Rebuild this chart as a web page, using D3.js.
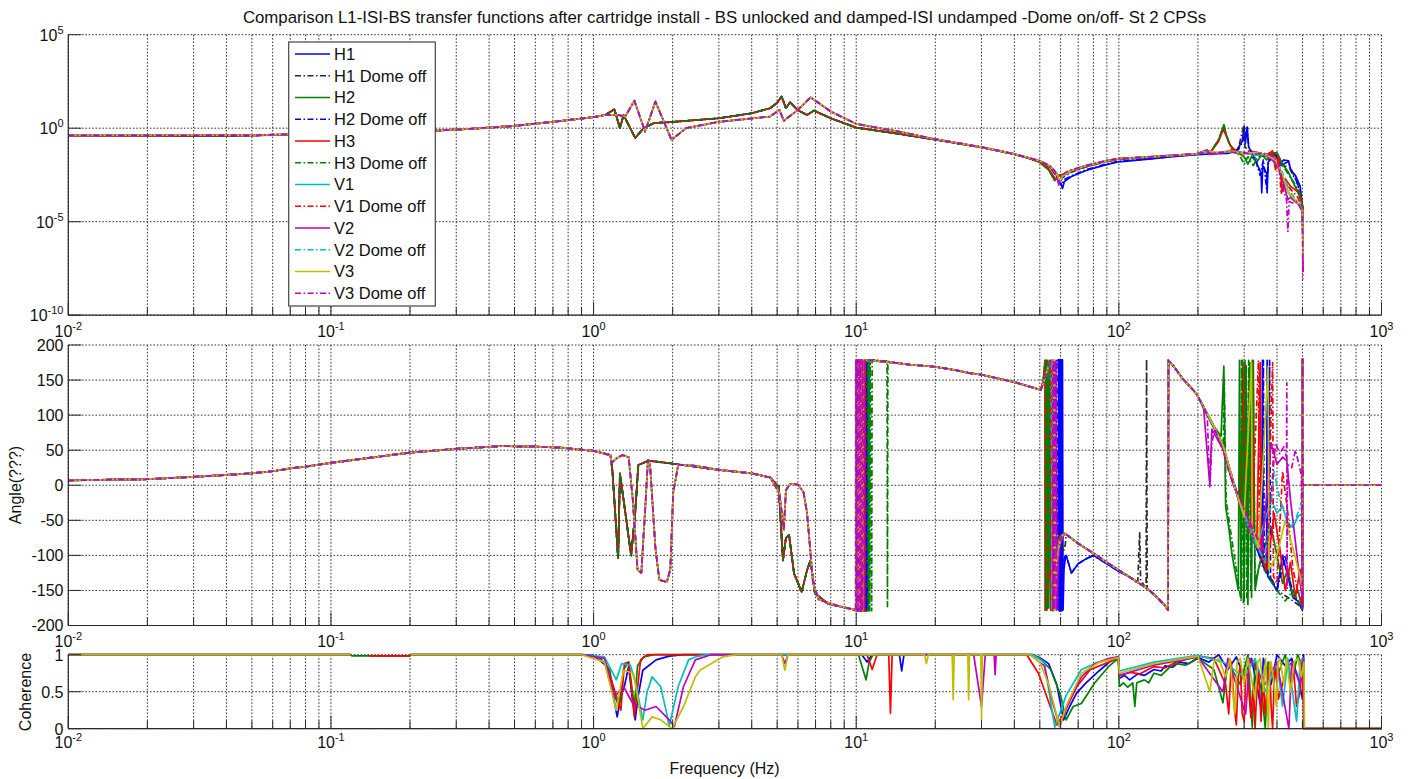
<!DOCTYPE html>
<html>
<head>
<meta charset="utf-8">
<script src="https://cdn.jsdelivr.net/npm/d3@7"></script>
<style>
  html, body { margin: 0; padding: 0; background: #fff; }
  svg { display: block; font-family: "Liberation Sans", Arial, Helvetica, sans-serif; }
</style>
</head>
<body>
<svg id="chart" width="1411" height="779"></svg>
<script>
// ---------------- Series and tick definitions ----------------
const seriesNames = ["H1", "H1 Dome off", "H2", "H2 Dome off", "H3", "H3 Dome off",
                     "V1", "V1 Dome off", "V2", "V2 Dome off", "V3", "V3 Dome off"];
const cohNames = ["H1", "H2", "H3", "V1", "V2", "V3"];

const titleText = "Comparison L1-ISI-BS transfer functions after cartridge install - BS unlocked and damped-ISI undamped -Dome on/off- St 2 CPSs";
const xTickValues = [1e-2, 1e-1, 1e0, 1e1, 1e2, 1e3];
const xTickExponents = ["-2", "-1", "0", "1", "2", "3"];
const magTickValues = [1e-10, 1e-5, 1e0, 1e5];
const magTickExponents = ["-10", "-5", "0", "5"];
const phaseTickValues = [-200, -150, -100, -50, 0, 50, 100, 150, 200];
const cohTickValues = [0, 0.5, 1];
const cohTickLabels = ["0", "0.5", "1"];

// ---------------- Magnitude [Hz, |H|] ----------------
const magLowA = [[0.01,0.38],[0.03,0.39],[0.05,0.41],[0.08,0.47],[0.12,0.55],[0.2,0.68],[0.25,0.75],[0.34,0.92],
  [0.49,1.3],[0.7,2.2],[1.0,3.9],[1.11,5.1],[1.2,10.2],[1.26,1.0],[1.3,5.1],[1.44,0.3],[1.55,1.0],[1.7,1.9],
  [1.95,2.1],[3.0,3.4],[4.0,6.3],[4.7,11.7],[5.0,23],[5.2,49],[5.4,11.7],[5.6,24.5],[5.97,9.5],[6.5,5.1],
  [6.9,8.7],[8.0,3.4],[10,1.07],[15,0.47],[20.3,0.24],[30,0.095],[40,0.041]];
const magLowB = [[0.01,0.41],[0.03,0.42],[0.05,0.43],[0.08,0.48],[0.12,0.56],[0.2,0.69],[0.25,0.76],[0.34,0.93],
  [0.49,1.3],[0.7,2.2],[1.0,3.9],[1.11,5.1],[1.24,5.1],[1.32,4.2],[1.43,29.5],[1.57,0.66],[1.72,26.3],
  [1.98,0.24],[2.25,1.0],[3.0,2.2],[4.7,4.2],[5.1,9.5],[5.3,2.5],[6.0,9.5],[6.7,45],[8.0,7.8],[10,1.7],
  [15,0.6],[20.3,0.25],[30,0.097],[40,0.042]];

const magHiH1 = [[45,0.026],[50,0.016],[55,0.008],[58,0.003],[60,0.0012],[61,0.0006],[62,0.0014],[66,0.0026],
  [75,0.0055],[89,0.011],[100,0.016],[130,0.022],[160,0.03],[197,0.038],[230,0.043],[260,0.045],[280,0.06],
  [295,0.2],[300,1.3],[303,0.15],[308,1.1],[312,0.1],[330,0.02],[348,0.004],[350,0.00035],[353,0.01],
  [365,0.004],[367,0.00035],[370,0.015],[393,0.04],[410,0.012],[425,0.02],[443,0.018],[450,0.006],
  [470,0.003],[490,0.0008],[500,0.00006],[503,1e-7]];
const magHiH1off = [[45,0.026],[50,0.0166],[55,0.008],[58,0.0025],[60,0.002],[63,0.003],[66,0.0045],[75,0.0085],
  [89,0.016],[100,0.022],[130,0.027],[160,0.033],[197,0.04],[230,0.045],[260,0.05],[285,0.08],[299,1.4],
  [302,0.1],[320,0.04],[350,0.03],[393,0.045],[420,0.01],[450,0.008],[480,0.001],[500,0.0001],[503,1e-6]];
const magHiH2 = [[45,0.026],[50,0.015],[54,0.006],[57,0.0016],[59,0.003],[63,0.0035],[66,0.005],[75,0.009],
  [89,0.017],[100,0.023],[130,0.028],[160,0.034],[197,0.042],[225,0.06],[240,0.25],[251,1.5],[256,0.5],
  [262,0.19],[270,0.08],[280,0.056],[300,0.03],[310,0.012],[320,0.03],[335,0.015],[350,0.04],[365,0.02],
  [380,0.045],[400,0.05],[420,0.012],[440,0.005],[460,0.0013],[480,0.0004],[500,0.00008],[503,1e-6]];
const magHiH2off = [[45,0.026],[50,0.016],[55,0.008],[58,0.0028],[60.5,0.0009],[62,0.0018],[66,0.0028],
  [75,0.006],[89,0.012],[100,0.017],[130,0.023],[160,0.031],[197,0.039],[230,0.044],[260,0.047],[285,0.07],
  [300,0.3],[308,1.1],[312,0.1],[330,0.025],[345,0.003],[355,0.02],[365,0.0006],[372,0.02],[393,0.042],
  [415,0.01],[443,0.017],[455,0.004],[475,0.0015],[495,0.0002],[500,0.00005],[503,3e-7]];
const magHiH3 = [[45,0.026],[50,0.016],[54,0.007],[57.5,0.0018],[59,0.003],[63,0.0037],[66,0.005],[75,0.009],
  [89,0.017],[100,0.023],[130,0.028],[160,0.034],[197,0.042],[225,0.058],[240,0.2],[250,0.9],[256,0.4],
  [265,0.12],[280,0.06],[300,0.045],[330,0.05],[360,0.035],[385,0.06],[395,0.006],[405,0.03],[420,0.0004],
  [430,0.002],[450,0.0008],[470,0.0005],[490,0.0003],[500,0.00006],[503,1e-6]];
const magHiH3off = [[45,0.026],[50,0.015],[54,0.006],[57,0.0016],[59,0.0028],[63,0.0035],[66,0.005],[75,0.009],
  [89,0.017],[100,0.023],[130,0.028],[160,0.034],[197,0.042],[225,0.06],[240,0.25],[251,1.5],[256,0.5],
  [262,0.19],[270,0.08],[280,0.056],[290,0.03],[300,0.012],[310,0.03],[325,0.01],[340,0.035],[370,0.03],
  [400,0.045],[420,0.01],[445,0.003],[465,0.0012],[485,0.0004],[500,0.00007],[503,1e-6]];
const magHiV1 = [[45,0.027],[50,0.018],[55,0.009],[58,0.004],[59.5,0.0012],[61,0.003],[66,0.0055],[75,0.01],
  [89,0.018],[100,0.024],[130,0.029],[160,0.035],[197,0.042],[215,0.048],[240,0.05],[260,0.06],[280,0.045],
  [300,0.05],[330,0.035],[360,0.04],[390,0.02],[420,0.003],[440,0.0004],[460,0.00015],[480,0.0001],
  [500,0.00004],[503,5e-7]];
const magHiV1off = [[45,0.026],[50,0.017],[55,0.008],[58,0.003],[60,0.0025],[63,0.004],[66,0.0055],[75,0.0095],
  [89,0.017],[100,0.024],[130,0.029],[160,0.035],[197,0.042],[217,0.07],[220,0.04],[250,0.05],[270,0.07],
  [290,0.04],[310,0.06],[340,0.05],[370,0.04],[385,0.06],[395,0.008],[405,0.03],[415,0.0003],[425,0.002],
  [440,0.0008],[460,0.0004],[480,0.0002],[500,0.00005],[503,1e-6]];
const magHiV2 = [[45,0.027],[50,0.018],[55,0.009],[58,0.0035],[59,0.0009],[60.5,0.002],[63,0.004],[66,0.0055],
  [75,0.01],[89,0.018],[100,0.024],[130,0.029],[160,0.035],[197,0.042],[217,0.07],[222,0.04],[250,0.05],
  [275,0.06],[300,0.045],[330,0.05],[360,0.04],[400,0.012],[420,0.002],[440,0.00015],[450,0.0002],
  [470,0.00012],[490,0.00007],[500,0.00003],[503,2e-8]];
const magHiV2off = [[45,0.027],[50,0.018],[55,0.009],[58,0.004],[60,0.0015],[62,0.003],[66,0.0055],[75,0.01],
  [89,0.018],[100,0.024],[130,0.029],[160,0.035],[197,0.042],[217,0.055],[240,0.05],[270,0.055],[300,0.05],
  [330,0.04],[360,0.045],[390,0.025],[420,0.004],[445,0.0005],[465,0.0002],[485,0.0001],[500,0.00004],
  [503,6e-7]];
const magHiV3 = [[45,0.027],[50,0.018],[55,0.009],[58,0.0035],[59.5,0.0015],[61,0.0028],[66,0.0055],[75,0.01],
  [89,0.018],[100,0.024],[130,0.029],[160,0.035],[197,0.042],[217,0.06],[240,0.05],[270,0.06],[300,0.045],
  [330,0.05],[360,0.04],[395,0.02],[420,0.003],[440,0.0004],[460,0.0002],[480,0.0001],[500,0.00004],
  [503,1e-7]];
const magHiV3off = [[45,0.027],[50,0.018],[55,0.009],[57,0.005],[59,0.0012],[60,0.0025],[63,0.0045],[66,0.006],
  [75,0.01],[89,0.018],[100,0.024],[130,0.029],[160,0.035],[197,0.042],[212,0.05],[217,0.075],[220,0.045],
  [240,0.05],[260,0.055],[280,0.05],[300,0.048],[320,0.04],[350,0.045],[380,0.035],[400,0.02],[415,0.003],
  [425,0.0004],[435,0.00015],[440,3e-6],[445,0.00012],[460,0.0001],[475,0.00012],[490,0.00006],
  [500,0.00003],[502,8e-9]];

// ---------------- Phase [Hz, degrees] ----------------
const phaseLowA = [[0.01,7],[0.02,8.6],[0.03,12],[0.04,14.7],[0.05,17],[0.06,20],[0.07,24],[0.08,26.6],[0.1,32],
  [0.2,46.6],[0.3,52],[0.45,56],[0.6,55],[0.75,53.7],[1.0,49],[1.16,43],[1.18,20],[1.24,-104],[1.26,17],
  [1.3,-20],[1.39,-100],[1.44,-40],[1.48,29],[1.62,35],[1.98,31],[3.0,22],[4.0,17],[4.7,11],[5.07,-2],
  [5.26,-107],[5.4,-75],[5.55,-71],[5.8,-126],[6.2,-152],[6.5,-121],[6.7,-107],[6.96,-154],[7.8,-169],
  [9.7,-177]];
const phaseLowB = [[0.01,7],[0.02,8.6],[0.03,12],[0.04,14.7],[0.05,17],[0.06,20],[0.07,24],[0.08,26.6],[0.1,32],
  [0.2,46.6],[0.3,52],[0.45,56],[0.6,55],[0.75,53.7],[1.0,49],[1.16,43],[1.17,32],[1.22,38],[1.29,43],
  [1.36,40],[1.41,-20],[1.47,-120],[1.52,-125],[1.58,-20],[1.61,36],[1.64,30],[1.72,-90],[1.78,-135],
  [1.9,-138],[1.96,-120],[2.01,-10],[2.1,29],[2.4,28],[3.0,22],[4.0,17],[4.7,11],[5.1,-11],[5.3,-64],
  [5.4,-7],[5.6,2],[6.0,1],[6.3,-10],[6.5,-40],[6.7,-97],[6.85,-140],[7.2,-163],[8.5,-172],[9.7,-177]];

const wrapH1 = [[10.0,-178],[10.5,-179],[10.52,179],[10.6,-179],[10.65,179],[10.75,-179],[10.8,179],[10.9,-179],[10.95,179],[11.0,-179],[11.05,179]];
const wrapH1off = [[10.0,-178],[10.3,-179],[10.32,179],[10.4,-179],[10.45,179],[10.55,-179],[10.6,179]];
const wrapH2 = [[10.0,-178],[10.6,-179],[10.62,179],[10.75,-179],[10.8,179],[10.95,-179],[11.0,179],[11.15,-179],[11.2,179]];
const wrapH2off = [[10.0,-178],[10.7,-179],[10.72,179],[10.85,-179],[10.88,179],[11.0,-179],[11.1,179]];
const wrapH3 = [[10.0,-178],[10.25,-179],[10.27,179],[10.4,-179],[10.45,179],[10.6,-179],[10.65,179],[10.75,-179],[10.8,179]];
const wrapH3off = [[10.0,-178],[11.1,-179],[11.12,179],[11.25,-179],[11.3,179],[11.45,-179],[11.5,179],[13.1,177],[13.15,-173],[13.2,177]];
const wrapV1 = [[9.95,-179],[9.96,179],[10.02,-179],[10.05,179],[10.12,-179],[10.15,179]];
const wrapV1off = [[9.98,-179],[10.0,179],[10.1,-179],[10.15,179],[10.3,-179],[10.35,179],[10.5,-179],[10.55,179]];
const wrapV2 = [[9.97,-179],[9.99,179],[10.08,-179],[10.12,179],[10.25,-179],[10.3,179],[10.45,-179],[10.5,179]];
const wrapV2off = [[9.95,-179],[9.955,179],[10.0,-179],[10.03,179],[10.1,-179],[10.13,179]];
const wrapV3 = [[9.98,-179],[10.01,179],[10.1,-179],[10.16,179],[10.3,-179],[10.4,179],[10.6,-179],[10.65,179]];
const wrapV3off = [[9.96,-179],[9.98,179],[10.04,-179],[10.08,179],[10.18,-179],[10.22,179],[10.35,-179],[10.4,179],[10.55,-179],[10.6,179],[10.75,-179],[10.8,179]];

const phaseMid = [[13.8,175],[16,172],[19.9,169],[24,164],[27,160],[30,157.6],[40,147],[50.4,136]];

const wrap2H1 = [[51.5,145],[53,165],[56,175],[59,179],[59.3,-179],[59.6,179],[60,-179],[60.3,179],[60.6,-179],[61,179],[61.3,-178],[61.8,-120],[62.5,-105]];
const wrap2H1off = [[51.5,145],[53,168],[55,176],[56,-179],[56.5,179],[57,-179],[57.5,-150],[58.5,-100],[60,-75],[61.5,-95],[62.5,-85]];
const wrap2H2 = [[51.5,148],[52.5,178],[52.6,-178],[53.0,178],[53.2,-178],[53.6,178],[54,-175],[54.5,178],[55,-178],[56,-160],[58,-100],[60,-75],[62,-70]];
const wrap2H2off = [[51.5,145],[54,170],[58,178],[58.5,-179],[59,179],[59.5,-179],[60,179],[60.5,-178],[61.5,-110],[62.5,-100]];
const wrap2H3 = [[51.5,148],[52.3,178],[52.4,-178],[52.8,178],[53.0,-178],[53.5,-150],[55,-110],[57,-85],[60,-72],[62,-68]];
const wrap2H3off = [[51.5,148],[52.5,178],[52.7,-178],[53.1,178],[53.4,-175],[54,-120],[56,-90],[60,-72],[62,-70]];
const wrap2V1 = [[51.5,145],[54,170],[55.5,178],[55.6,-178],[56,178],[56.3,-178],[57,-120],[59,-80],[62,-68]];
const wrap2V1off = [[51.5,146],[54,172],[55,178],[55.1,-178],[55.5,178],[55.8,-178],[57,-110],[59,-78],[62,-68]];
const wrap2V2 = [[51.5,145],[54,170],[56,178],[56.1,-178],[56.5,178],[57,-178],[57.5,178],[58,-178],[59,-90],[62,-68]];
const wrap2V2off = [[51.5,145],[54,170],[55.5,178],[55.6,-178],[56.2,178],[56.5,-175],[58,-100],[60,-75],[62,-68]];
const wrap2V3 = [[51.5,145],[54,170],[56.5,178],[56.6,-178],[57,178],[57.4,-178],[58,-110],[60,-75],[62,-68]];
const wrap2V3off = [[51.5,145],[54,170],[56,178],[56.1,-178],[56.6,178],[57,-178],[57.5,178],[58,-178],[58.5,-120],[60,-75],[62,-68]];

const phaseLate = [[63,-70],[70,-83],[80,-97],[90,-110],[100,-121]];
const phaseLateBlue = [[63,-100],[66,-125],[70,-112],[75,-105],[80,-100],[90,-112],[100,-123]];
const phaseTailHead = [[110,-131],[128,-147],[140,-160],[150,-172],[154,-178],[154.3,178],[160,172],[175,152],[197,131]];
const phaseTailHeadBlack = [[110,-131],[118,-140],[120,-68],[121,-135],[127,-147],[127.5,180],[128.2,-147],[140,-160],[150,-172],[154,-178],[154.3,178],[160,172],[175,152],[197,131]];

const tailH1 = [[210,110],[230,82],[250,52],[270,10],[285,-20],[300,-45],[305,170],[308,-60],[320,-70],[335,-90],[350,-110],[352,178],[354,-115],[365,-125],[367,178],[369,-130],[385,-140],[400,-150],[420,-100],[440,-130],[460,-160],[480,-165],[495,-175],[500,-178],[500.5,180],[503,0],[1000,0]];
const tailH1off = [[210,112],[230,84],[250,55],[276,0],[300,-40],[302,175],[304,-45],[335,-88],[366,-121],[400,-150],[440,-160],[480,-170],[500,-176],[500.5,180],[503,0],[1000,0]];
const tailH2 = [[210,112],[230,84],[245,70],[251,170],[255,-30],[262,-60],[270,-100],[285,-150],[288,178],[292,-160],[296,178],[300,-165],[305,170],[310,-170],[315,175],[320,-160],[325,178],[330,-150],[340,-120],[350,-100],[380,-60],[400,-100],[420,-140],[440,-120],[460,-160],[480,-150],[500,-175],[500.5,180],[503,0],[1000,0]];
const tailH2off = [[210,112],[230,84],[250,55],[276,-2],[300,-45],[330,-85],[350,-105],[355,178],[358,-110],[370,-125],[375,178],[378,-130],[400,-150],[430,-100],[450,-140],[470,-160],[490,-170],[500,-178],[500.5,180],[503,0],[1000,0]];
const tailH3 = [[210,112],[230,84],[250,55],[276,-2],[290,-30],[300,175],[303,-50],[318,-70],[322,178],[326,-80],[335,-88],[345,175],[348,-100],[366,-121],[390,-40],[410,-90],[430,-150],[450,-110],[470,-160],[490,-120],[500,-170],[500.5,180],[503,0],[1000,0]];
const tailH3off = [[210,112],[230,84],[250,60],[252,150],[256,-20],[265,-60],[280,-120],[292,-165],[293,178],[298,-170],[302,178],[307,-160],[312,178],[318,-150],[324,178],[330,-140],[345,-110],[370,-130],[400,-150],[430,-165],[460,-150],[490,-170],[500,-178],[500.5,180],[503,0],[1000,0]];
const tailV1 = [[210,112],[230,84],[250,55],[276,-2],[300,-45],[335,-88],[360,-50],[380,-20],[400,-40],[420,-30],[440,-55],[460,-60],[480,-45],[500,-40],[500.5,180],[503,0],[1000,0]];
const tailV1off = [[210,112],[230,84],[250,55],[276,-2],[300,-45],[320,-70],[340,178],[343,-90],[366,-121],[385,175],[388,-130],[400,-140],[420,20],[440,-40],[460,-120],[480,-150],[500,-172],[500.5,180],[503,0],[1000,0]];
const tailV2 = [[210,112],[222,0],[226,80],[250,50],[270,5],[290,-25],[310,-50],[330,-80],[350,-95],[380,60],[400,30],[420,40],[436,35],[450,-20],[470,-80],[490,-140],[500,-160],[500.5,180],[503,0],[1000,0]];
const tailV2off = [[210,112],[230,84],[250,55],[276,-2],[300,-40],[330,-80],[360,-110],[390,20],[410,-20],[430,-40],[450,-60],[470,-50],[490,-30],[500,-20],[500.5,180],[503,0],[1000,0]];
const tailV3 = [[210,112],[230,84],[250,55],[276,-2],[300,-45],[320,175],[322,-60],[340,-90],[370,170],[373,-120],[400,-100],[430,-50],[460,-90],[490,-130],[500,-150],[500.5,180],[503,0],[1000,0]];
const tailV3off = [[210,112],[217,100],[222,-2],[226,60],[232,80],[250,48],[262,20],[276,-2],[290,-20],[305,-40],[330,-70],[350,-85],[365,-100],[380,-10],[395,60],[410,45],[425,55],[435,40],[436,146],[437,-147],[438,30],[455,25],[470,50],[485,30],[495,15],[500,-175],[500.5,180],[503,0],[1000,0]];

// ---------------- Coherence [Hz, coherence] ----------------
const cohH1 = [[0.01,1],[0.119,1],[0.12,null],[0.201,1],[0.9,1],[1.0,0.99],[1.11,0.86],[1.18,0.5],[1.23,0.16],[1.27,0.45],[1.31,0.57],[1.36,0.84],[1.4,0.45],[1.44,0.12],[1.48,0.45],[1.54,0.79],[1.73,0.93],[1.94,0.98],[2.2,1],[10.5,1],[11,0.9],[11.5,1],[14.6,1],[14.9,0.78],[15.2,1],[47,1],[50,0.96],[54,0.88],[58,0.6],[61.6,0.12],[65,0.3],[69,0.48],[75,0.62],[84,0.78],[92,0.9],[99.5,0.96],[100.5,0.68],[105,0.72],[110,0.66],[118,0.74],[125,0.72],[136,0.8],[145,0.78],[150,0.85],[160,0.83],[170,0.9],[185,0.88],[200,0.96],[220,0.9],[240,1],[260,0.8],[280,0.97],[300,0.7],[320,0.95],[347,0.3],[355,0.95],[380,0.6],[400,1],[430,0.85],[455,0.95],[480,0.7],[500,0.4],[505,1],[507,0],[1000,0]];
const cohH2 = [[0.01,1],[0.119,1],[0.12,0.985],[0.2,0.985],[0.201,1],[0.9,1],[1.05,0.97],[1.15,0.8],[1.2,0.45],[1.25,0.3],[1.3,0.8],[1.36,0.9],[1.43,0.3],[1.47,0.85],[1.55,0.97],[1.7,1],[10.2,1],[10.9,0.66],[11.2,0.9],[11.6,1],[47,1],[50,0.95],[55,0.8],[60,0.45],[63,0.12],[67,0.3],[72,0.34],[81,0.62],[92,0.85],[99.5,0.95],[100.5,0.57],[104,0.62],[108,0.56],[113,0.62],[115,0.3],[117,0.62],[125,0.66],[130,0.62],[136,0.75],[145,0.72],[155,0.82],[165,0.88],[180,0.86],[200,0.95],[230,0.8],[249,0.35],[260,0.9],[290,0.6],[310,1],[322,0.02],[330,0.9],[350,0.5],[361,0.0],[370,0.9],[400,0.7],[430,1],[453,0.6],[480,1],[505,0.8],[507,0],[1000,0]];
const cohH3 = [[0.01,1],[0.119,1],[0.12,null],[0.14,0.985],[0.2,0.985],[0.201,1],[0.9,1],[1.1,0.95],[1.19,0.57],[1.27,0.25],[1.31,0.88],[1.36,0.9],[1.43,0.16],[1.51,0.93],[1.6,1],[11,1],[11.5,0.8],[12,1],[13.3,1],[13.5,0.21],[13.7,1],[44.6,1],[49.4,0.75],[54.8,0.3],[58.1,0.05],[61.6,0.2],[69.2,0.57],[77.9,0.8],[91.7,0.9],[99.6,0.97],[100.5,0.72],[110,0.76],[120,0.74],[136,0.84],[150,0.82],[165,0.9],[200,0.98],[230,0.95],[255,0.6],[262,0.2],[268,0.9],[275,0.3],[280,0.05],[285,0.7],[290,0.85],[295,0.2],[300,0.1],[305,0.8],[310,0.7],[318,0.15],[325,0.6],[330,0.0],[335,0.5],[340,0.8],[348,0.1],[355,0.7],[360,0.2],[368,0.6],[375,0.9],[380,0.3],[385,0.0],[390,0.6],[395,0.85],[405,0.4],[420,0.6],[440,0.85],[460,0.9],[475,0.3],[490,0.5],[500,0.95],[506,0],[1000,0]];
const cohV1 = [[0.01,1],[0.119,1],[0.12,null],[0.201,1],[0.9,1],[1.1,0.97],[1.22,0.66],[1.28,0.88],[1.38,0.86],[1.45,0.6],[1.54,0.12],[1.6,0.5],[1.67,0.7],[1.8,0.57],[1.9,0.2],[1.94,0.03],[2.1,0.57],[2.3,0.93],[2.44,0.97],[2.7,1],[47,1],[52,0.9],[57,0.02],[63,0.45],[72,0.8],[84,0.9],[99.5,0.97],[100.5,0.78],[136,0.9],[200,0.99],[250,0.9],[300,0.7],[330,0.95],[360,0.5],[400,0.9],[420,0.3],[440,0.95],[475,0.1],[490,0.9],[505,0.95],[507,0],[1000,0]];
const cohV2 = [[0.01,1],[0.119,1],[0.12,null],[0.201,1],[0.9,1],[1.1,0.95],[1.2,0.43],[1.3,0.57],[1.41,0.34],[1.57,0.25],[1.73,0.3],[1.94,0.12],[2.03,0.03],[2.2,0.57],[2.44,0.93],[2.8,1],[5.2,1],[5.35,0.88],[5.5,1],[28,1],[30,0.3],[31,1],[33.5,1],[33.8,0.73],[34.1,1],[46,1],[52,0.85],[56,0.35],[59.5,0.03],[65,0.4],[72,0.7],[81,0.88],[92,0.95],[99.5,0.97],[100.5,0.72],[136,0.86],[200,0.97],[249,0.5],[260,0.95],[304,0.2],[315,0.95],[360,0.6],[400,0.9],[444,0.0],[455,0.9],[490,0.6],[505,0.95],[507,0],[1000,0]];
const cohV3 = [[0.01,1],[0.119,1],[0.12,null],[0.201,1],[0.9,1],[1.1,0.9],[1.22,0.25],[1.3,0.79],[1.42,0.75],[1.54,0.0],[1.67,0.16],[1.8,0.12],[1.99,0.0],[2.2,0.3],[2.44,0.7],[2.54,0.79],[3.1,0.97],[3.5,1],[5.2,1],[5.35,0.79],[5.5,1],[18.2,1],[18.5,0.88],[18.8,1],[23.2,1],[23.4,0.39],[23.6,1],[26.6,1],[26.8,0.39],[27,1],[29.8,1],[30,0.14],[30.2,1],[46,1],[50,0.9],[54,0.6],[59.5,0.03],[63,0.3],[72,0.75],[84.5,0.9],[99.5,0.96],[100.5,0.75],[136,0.88],[200,0.98],[222,0.5],[230,0.9],[240,0.95],[255,0.7],[265,0.95],[276,0.2],[282,0.9],[290,0.95],[300,0.6],[310,0.95],[330,0.4],[338,0.9],[345,0.95],[355,0.5],[362,0.95],[371,0.0],[376,0.9],[380,0.9],[390,0.6],[398,0.3],[404,0.9],[410,0.95],[425,0.6],[435,0.95],[450,0.5],[465,0.9],[480,0.95],[495,0.7],[507,0.9],[509,0],[1000,0]];

// ---------------- Assemble series ----------------
const magData = [
  magLowA.concat(magHiH1), magLowA.concat(magHiH1off), magLowA.concat(magHiH2), magLowA.concat(magHiH2off),
  magLowA.concat(magHiH3), magLowA.concat(magHiH3off), magLowB.concat(magHiV1), magLowB.concat(magHiV1off),
  magLowB.concat(magHiV2), magLowB.concat(magHiV2off), magLowB.concat(magHiV3), magLowB.concat(magHiV3off)
];
const phaseData = [
  [].concat(phaseLowA, wrapH1, phaseMid, wrap2H1, phaseLateBlue, phaseTailHead, tailH1),
  [].concat(phaseLowA, wrapH1off, phaseMid, wrap2H1off, phaseLate, phaseTailHeadBlack, tailH1off),
  [].concat(phaseLowA, wrapH2, phaseMid, wrap2H2, phaseLate, phaseTailHead, tailH2),
  [].concat(phaseLowA, wrapH2off, phaseMid, wrap2H2off, phaseLateBlue, phaseTailHead, tailH2off),
  [].concat(phaseLowA, wrapH3, phaseMid, wrap2H3, phaseLate, phaseTailHead, tailH3),
  [].concat(phaseLowA, wrapH3off, phaseMid, wrap2H3off, phaseLate, phaseTailHead, tailH3off),
  [].concat(phaseLowB, wrapV1, phaseMid, wrap2V1, phaseLate, phaseTailHead, tailV1),
  [].concat(phaseLowB, wrapV1off, phaseMid, wrap2V1off, phaseLate, phaseTailHead, tailV1off),
  [].concat(phaseLowB, wrapV2, phaseMid, wrap2V2, phaseLate, phaseTailHead, tailV2),
  [].concat(phaseLowB, wrapV2off, phaseMid, wrap2V2off, phaseLate, phaseTailHead, tailV2off),
  [].concat(phaseLowB, wrapV3, phaseMid, wrap2V3, phaseLate, phaseTailHead, tailV3),
  [].concat(phaseLowB, wrapV3off, phaseMid, wrap2V3off, phaseLate, phaseTailHead, tailV3off)
];
const cohData = [cohH1, cohH2, cohH3, cohV1, cohV2, cohV3];

// ---------------- Styles ----------------
const lineColors = ["#0000ff", "#2b2b2b", "#008000", "#0000ff", "#ff0000", "#008000",
                    "#00bfbf", "#ff0000", "#bf00bf", "#00bfbf", "#bfbf00", "#bf00bf"];
const lineDashDot = [false, true, false, true, false, true, false, true, false, true, false, true];
const cohColors = ["#0000ff", "#008000", "#ff0000", "#00bfbf", "#bf00bf", "#bfbf00"];
const DASHDOT = "6,2.5,1.5,2.5";
const TXT = "#111";

// ---------------- Layout ----------------
const svg = d3.select("#chart");
const L = 68.3, R = 1381.5;
const x = d3.scaleLog().domain([1e-2, 1e3]).range([L, R]);
const xAllTicks = x.ticks();
const isMajor = v => Math.abs(Math.log10(v) - Math.round(Math.log10(v))) < 1e-9;

const panels = [
  { id: "mag", top: 34.7, bottom: 315.2, y: d3.scaleLog().domain([1e-10, 1e5]),
    yTicks: magTickValues, yLabels: magTickExponents, sup: true, xLabelGap: 22 },
  { id: "phase", top: 345, bottom: 625.5, y: d3.scaleLinear().domain([-200, 200]),
    yTicks: phaseTickValues, yLabels: phaseTickValues.map(String), sup: false, xLabelGap: 21 },
  { id: "coh", top: 654.7, bottom: 728.7, y: d3.scaleLinear().domain([0, 1]),
    yTicks: cohTickValues, yLabels: cohTickLabels, sup: false, xLabelGap: 19.5 }
];
panels.forEach(p => p.y.range([p.bottom, p.top]));

function supLabel(sel, exp) {
  sel.append("tspan").text("10");
  sel.append("tspan").attr("dy", -7).attr("font-size", 11).text(exp);
}

panels.forEach(p => {
  const g = svg.append("g").attr("class", "panel-" + p.id);
  g.append("rect").attr("x", L).attr("y", p.top).attr("width", R - L).attr("height", p.bottom - p.top).attr("fill", "#fff");

  // dotted grid
  const grid = g.append("g").attr("stroke", "#333").attr("stroke-width", 1).attr("stroke-dasharray", "1.6,1.8");
  xAllTicks.forEach(v => {
    grid.append("line").attr("x1", x(v)).attr("x2", x(v)).attr("y1", p.top).attr("y2", p.bottom);
  });
  p.yTicks.forEach(v => {
    grid.append("line").attr("x1", L).attr("x2", R).attr("y1", p.y(v)).attr("y2", p.y(v));
  });

  svg.append("clipPath").attr("id", "clip-" + p.id)
    .append("rect").attr("x", L - 1).attr("y", p.top - 1.5).attr("width", R - L + 2).attr("height", p.bottom - p.top + 3);
});

function drawLines(p, data, colors, dashes) {
  const line = d3.line()
    .defined(d => d[1] !== null)
    .x(d => x(d[0]))
    .y(d => p.y(d[1]));
  const g = svg.select(".panel-" + p.id).append("g").attr("clip-path", "url(#clip-" + p.id + ")");
  data.forEach((s, i) => {
    g.append("path").attr("d", line(s)).attr("fill", "none")
      .attr("stroke", colors[i]).attr("stroke-width", 1.7)
      .attr("stroke-linejoin", "round")
      .attr("stroke-dasharray", dashes && dashes[i] ? DASHDOT : null);
  });
}
drawLines(panels[0], magData, lineColors, lineDashDot);
drawLines(panels[1], phaseData, lineColors, lineDashDot);
drawLines(panels[2], cohData, cohColors, null);

// axes, ticks and labels
panels.forEach(p => {
  const g = svg.select(".panel-" + p.id).append("g");
  g.append("line").attr("x1", L).attr("x2", L).attr("y1", p.top).attr("y2", p.bottom).attr("stroke", "#2a2a2a").attr("stroke-width", 1.2);
  g.append("line").attr("x1", L).attr("x2", R).attr("y1", p.bottom).attr("y2", p.bottom).attr("stroke", "#2a2a2a").attr("stroke-width", 1.2);
  xAllTicks.forEach(v => {
    const len = isMajor(v) ? 13 : 8;
    g.append("line").attr("x1", x(v)).attr("x2", x(v)).attr("y1", p.bottom).attr("y2", p.bottom - len)
      .attr("stroke", "#2a2a2a").attr("stroke-width", 1);
  });
  p.yTicks.forEach(v => {
    g.append("line").attr("x1", L).attr("x2", L + 13).attr("y1", p.y(v)).attr("y2", p.y(v))
      .attr("stroke", "#2a2a2a").attr("stroke-width", 1);
  });
  xTickValues.forEach((v, i) => {
    const t = g.append("text").attr("x", x(v)).attr("y", p.bottom + p.xLabelGap)
      .attr("text-anchor", "middle").attr("font-size", 16).attr("fill", TXT);
    supLabel(t, xTickExponents[i]);
  });
  p.yTicks.forEach((v, i) => {
    const t = g.append("text").attr("x", 63.5).attr("y", p.y(v) + 5.8)
      .attr("text-anchor", "end").attr("font-size", 16).attr("fill", TXT);
    if (p.sup) supLabel(t, p.yLabels[i]); else t.text(p.yLabels[i]);
  });
});

// titles and axis labels
svg.append("text").attr("x", 724.5).attr("y", 22.5).attr("text-anchor", "middle")
  .attr("font-size", 16.8).attr("fill", TXT).text(titleText);
svg.append("text").attr("x", 724.5).attr("y", 774).attr("text-anchor", "middle")
  .attr("font-size", 16).attr("fill", TXT).text("Frequency (Hz)");
svg.append("text").attr("transform", "translate(21,485) rotate(-90)").attr("text-anchor", "middle")
  .attr("font-size", 16).attr("fill", TXT).text("Angle(???)");
svg.append("text").attr("transform", "translate(31,692) rotate(-90)").attr("text-anchor", "middle")
  .attr("font-size", 16).attr("fill", TXT).text("Coherence");

// legend
const lg = svg.append("g").attr("class", "legend");
lg.append("rect").attr("x", 288.7).attr("y", 42).attr("width", 146.6).attr("height", 264)
  .attr("fill", "#fff").attr("stroke", "#444").attr("stroke-width", 1.2);
seriesNames.forEach((name, i) => {
  const yy = 54 + i * 21.75;
  lg.append("line").attr("x1", 295).attr("x2", 330).attr("y1", yy).attr("y2", yy)
    .attr("stroke", lineColors[i]).attr("stroke-width", 1.5)
    .attr("stroke-dasharray", lineDashDot[i] ? DASHDOT : null);
  lg.append("text").attr("x", 334).attr("y", yy + 5.8).attr("font-size", 16.5).attr("fill", TXT).text(name);
});
</script>
</body>
</html>
